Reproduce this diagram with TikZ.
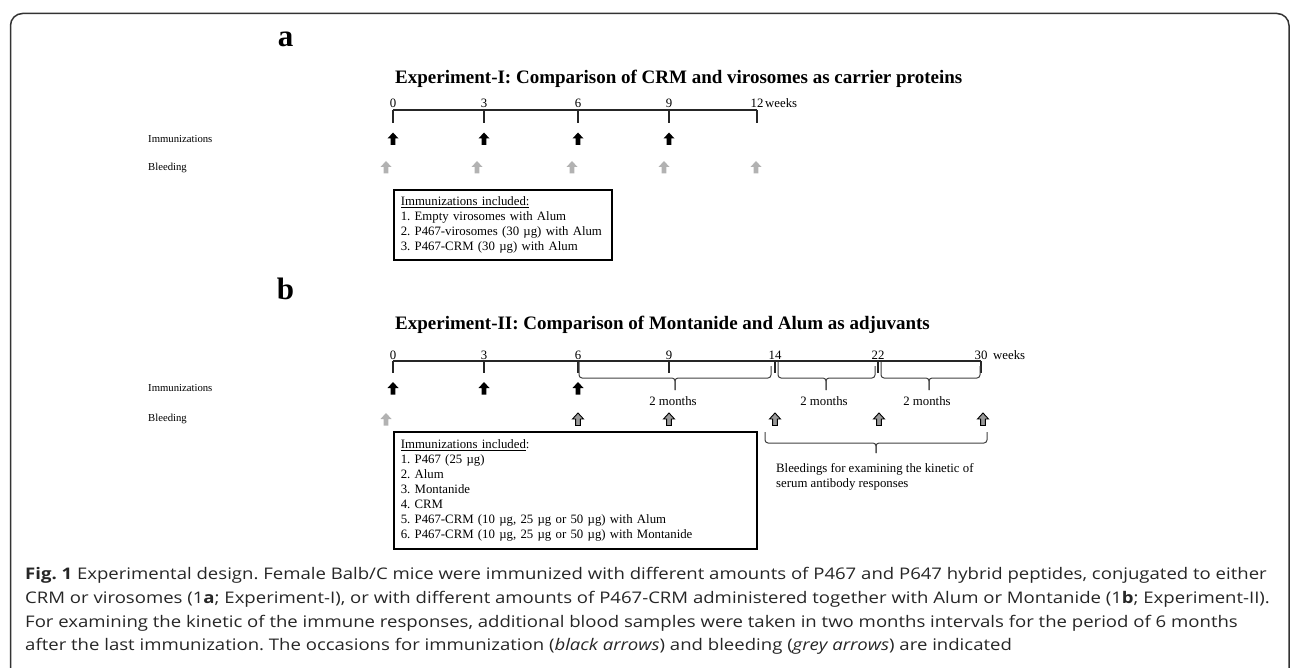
\documentclass[tikz,border=0pt]{standalone}
\usepackage{fontspec}
\setmainfont{Liberation Serif}
\newfontfamily\capfont[FakeStretch=1.16]{Open Sans}
\frenchspacing
\begin{document}
\begin{tikzpicture}[x=1pt,y=-1pt,
  lbl/.style={font=\fontsize{10.7}{12}\selectfont, anchor=west, inner sep=0},
  txt/.style={font=\fontsize{12.8}{15}\selectfont, inner sep=0},
  num/.style={font=\fontsize{12.8}{15}\selectfont, inner sep=0, anchor=base},
  ttl/.style={font=\fontsize{19}{22}\selectfont\bfseries, anchor=base west, inner sep=0},
  panel/.style={font=\fontsize{31}{34}\selectfont\bfseries, anchor=base, inner sep=0},
  axis/.style={line width=1.4pt, black!85},
  brc/.style={line width=1pt, black!75, rounded corners=3pt},
  ibox/.style={draw, line width=1.6pt, anchor=north west, align=left, inner xsep=7pt, inner ysep=3pt,
     font=\fontsize{12.8}{15}\selectfont},
  captext/.style={font=\capfont\fontsize{16}{20}\selectfont, anchor=base west, inner sep=0, text=black!85},
  uarrow/.pic={\path[pic actions] (-5.5,-0.5) -- (0,-6.5) -- (5.5,-0.5) -- (2.4,-0.5) -- (2.4,6) -- (-2.4,6) -- (-2.4,-0.5) -- cycle;},
  imm/.style={fill=black},
  bld/.style={fill=black!30},
  bldo/.style={fill=black!40, draw=black, line width=0.9pt}
]
\useasboundingbox (0,0) rectangle (1290,668);
% frame
\draw[line width=1.5pt, black!80, rounded corners=12pt] (10.5,668) -- (10.5,13.5) -- (1289,13.5) -- (1289,668);

% ---------------- panel a
\node[panel] (pa) at (285.5,47) {a};
\node[ttl] (ta) at (395,84) {Experiment-I: Comparison of CRM and virosomes as carrier proteins};
\coordinate (a0) at (393,110);
\coordinate (a12) at (757,110);
\draw[axis] (a0) -- (a12);
\foreach \x/\t in {393/0,484/3,578/6,669/9,757/12}{
  \draw[axis] (\x,110) -- (\x,123);
  \node[num] (an\t) at (\x,108) {\t};
}
\node[num, anchor=base west] (aw) at (765,108) {weeks};
\node[lbl] (aimm) at (148,139) {Immunizations};
\node[lbl] (ableed) at (148,168) {Bleeding};
\foreach \x in {393,484,578,669}{ \pic[imm] at (\x,139) {uarrow}; }
\foreach \x in {386,477,572,664,756}{ \pic[bld] at (\x,167.5) {uarrow}; }
\node[ibox, text width=204pt, minimum height=70pt] (boxa) at (393,189) {%
\underline{Immunizations included:}\\
1. Empty virosomes with Alum\\
2. P467-virosomes (30 µg) with Alum\\
3. P467-CRM (30 µg) with Alum};

% ---------------- panel b
\node[panel] (pb) at (285.5,300) {b};
\node[ttl] (tb) at (395,329) {Experiment-II: Comparison of Montanide and Alum as adjuvants};
\coordinate (b0) at (393,361);
\coordinate (b30) at (981,361);
\draw[axis] (b0) -- (b30);
\foreach \x/\t in {393/0,484/3,578/6,669/9,775/14,878/22,981/30}{
  \draw[axis] (\x,361) -- (\x,373);
  \node[num] (bn\t) at (\x,359) {\t};
}
\node[num, anchor=base west] (bw) at (993,359) {weeks};
% interval braces
\foreach \a/\b/\m/\n in {579/771/675/1,778/875/826/2,881/980/929/3}{
  \draw[brc] (\a,362) -- (\a,378) -- (\m,378) -- (\m,390);
  \draw[brc] (\b,366) -- (\b,378) -- (\m,378) -- (\m,390);
  \node[txt, anchor=base] (mo\n) at (\m-2,405) {2 months};
}
\node[lbl] (bimm) at (148,388) {Immunizations};
\node[lbl] (bbleed) at (148,419) {Bleeding};
\foreach \x in {393,484,578}{ \pic[imm] at (\x,388.5) {uarrow}; }
\pic[bld] at (386,419.5) {uarrow};
\foreach \x in {578,669,775,879,983}{ \pic[bldo] at (\x,419.5) {uarrow}; }
\node[ibox, text width=349pt, minimum height=117pt] (boxb) at (393,431) {%
\underline{Immunizations included}:\\
1. P467 (25 µg)\\
2. Alum\\
3. Montanide\\
4. CRM\\
5. P467-CRM (10 µg, 25 µg or 50 µg) with Alum\\
6. P467-CRM (10 µg, 25 µg or 50 µg) with Montanide};
% bleedings brace
\draw[brc] (765,432) -- (765,443) -- (876,443) -- (876,453);
\draw[brc] (987,432) -- (987,443) -- (876,443) -- (876,453);
\node[txt, anchor=base west, align=left] (bl1) at (776,472) {Bleedings for examining the kinetic of};
\node[txt, anchor=base west, align=left] (bl2) at (776,487) {serum antibody responses};

% ---------------- caption
\node[captext] (c1) at (25,579) {\textbf{Fig. 1} Experimental design. Female Balb/C mice were immunized with different amounts of P467 and P647 hybrid peptides, conjugated to either};
\node[captext] (c2) at (25,603) {CRM or virosomes (1\textbf{a}; Experiment-I), or with different amounts of P467-CRM administered together with Alum or Montanide (1\textbf{b}; Experiment-II).};
\node[captext] (c3) at (25,627) {For examining the kinetic of the immune responses, additional blood samples were taken in two months intervals for the period of 6 months};
\node[captext] (c4) at (25,650) {after the last immunization. The occasions for immunization (\textit{black arrows}) and bleeding (\textit{grey arrows}) are indicated};
\end{tikzpicture}
\end{document}
